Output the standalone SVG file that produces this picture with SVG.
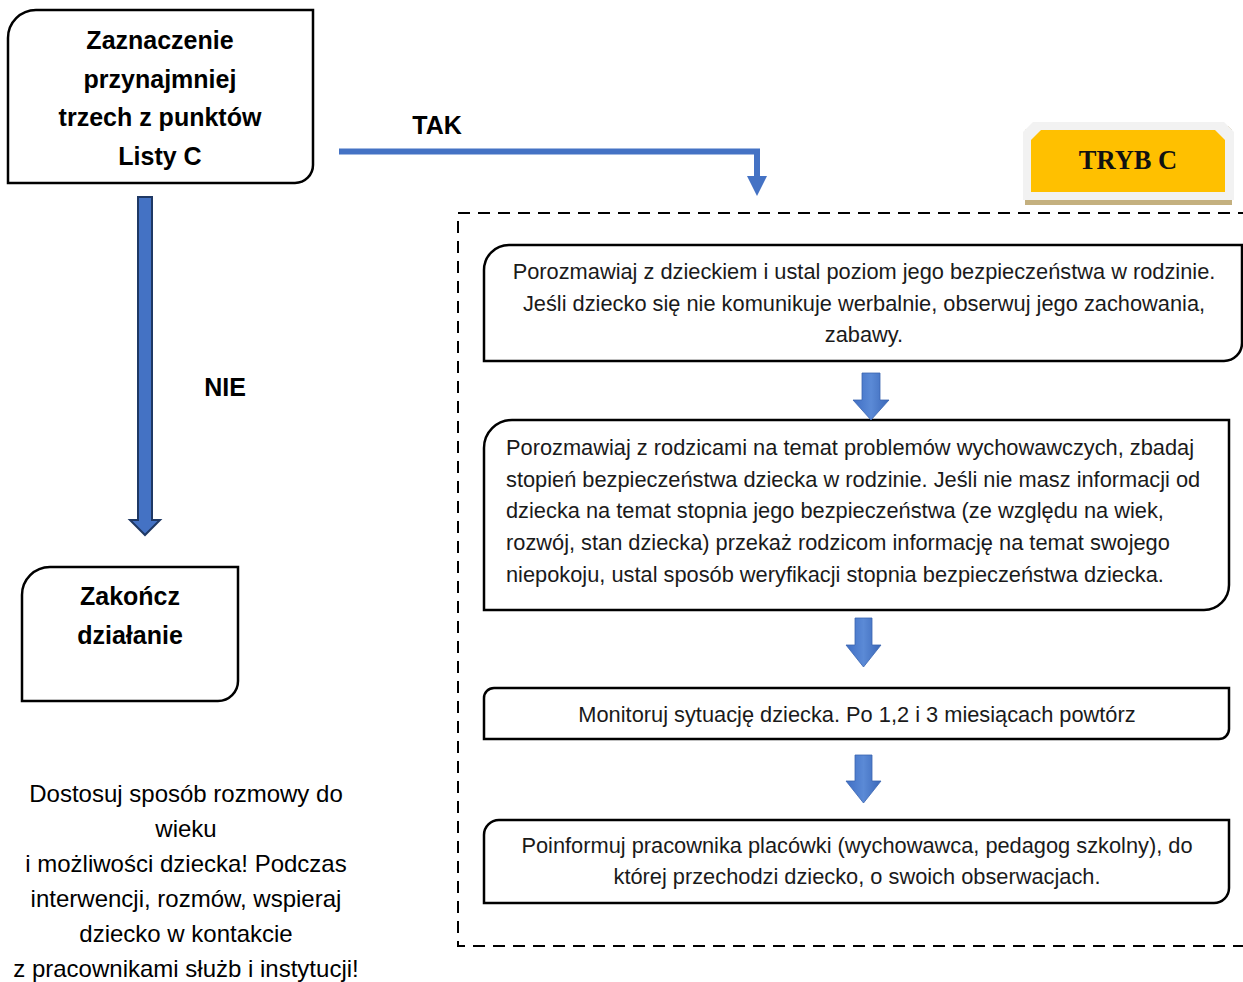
<svg xmlns="http://www.w3.org/2000/svg" width="1243" height="982" viewBox="0 0 1243 982">
<defs>
<style>
.box{fill:#fff;stroke:#000;stroke-width:2.5}
.bt{font-family:"Liberation Sans",Arial,sans-serif;font-weight:bold;font-size:25px;fill:#000;text-anchor:middle}
.t{font-family:"Liberation Sans",Arial,sans-serif;font-size:21.8px;fill:#1a1a1a}
.tc{text-anchor:middle}
.note{font-family:"Liberation Sans",Arial,sans-serif;font-size:24px;fill:#000;text-anchor:middle}
.sarrow{fill:url(#ag);stroke:#3a64b0;stroke-width:0.8}
</style>
<linearGradient id="ag" x1="0" y1="0" x2="1" y2="0">
<stop offset="0" stop-color="#3f6ec4"/>
<stop offset="0.5" stop-color="#5b8ad6"/>
<stop offset="1" stop-color="#3a67b8"/>
</linearGradient>
</defs>
<rect width="1243" height="982" fill="#fff"/>

<g id="container">
<path d="M1250,213 H458 V946 H1250" fill="none" stroke="#000" stroke-width="2" stroke-dasharray="12 8"/>
</g>

<g id="badge">
<path d="M1025,130 L1033,126 H1228 L1232,130 V205 H1025 Z" fill="#c4b07f"/>
<path d="M1023,132 L1033,122 H1224 L1234,132 V200 H1023 Z" fill="#f2f2f2"/>
<path d="M1031,140 L1041,130 H1215 L1225,140 V192 H1031 Z" fill="#ffc000"/>
<text x="1128" y="169" font-family="'Liberation Serif','Times New Roman',serif" font-weight="bold" font-size="26.5" fill="#111" text-anchor="middle">TRYB C</text>
</g>

<g id="node-start">
<path class="box" d="M36,10 H313 V165 A18,18 0 0 1 295,183 H8 V38 A28,28 0 0 1 36,10 Z"/>
<text class="bt" x="160" y="49">Zaznaczenie</text>
<text class="bt" x="160" y="88">przynajmniej</text>
<text class="bt" x="160" y="126">trzech z punktów</text>
<text class="bt" x="160" y="165">Listy C</text>
</g>

<g id="node-end">
<path class="box" d="M50,567 H238 V681 A20,20 0 0 1 218,701 H22 V595 A28,28 0 0 1 50,567 Z"/>
<text class="bt" x="130" y="605">Zakończ</text>
<text class="bt" x="130" y="644">działanie</text>
</g>

<g id="note">
<text class="note" x="186" y="802">Dostosuj sposób rozmowy do</text>
<text class="note" x="186" y="837">wieku</text>
<text class="note" x="186" y="872">i możliwości dziecka! Podczas</text>
<text class="note" x="186" y="907">interwencji, rozmów, wspieraj</text>
<text class="note" x="186" y="942">dziecko w kontakcie</text>
<text class="note" x="186" y="977">z pracownikami służb i instytucji!</text>
</g>

<g id="step-1">
<path class="box" d="M509,245 H1242 V343 A18,18 0 0 1 1224,361 H484 V270 A25,25 0 0 1 509,245 Z"/>
<text class="t tc" x="864" y="279">Porozmawiaj z dzieckiem i ustal poziom jego bezpieczeństwa w rodzinie.</text>
<text class="t tc" x="864" y="311">Jeśli dziecko się nie komunikuje werbalnie, obserwuj jego zachowania,</text>
<text class="t tc" x="864" y="342">zabawy.</text>
</g>

<g id="step-2">
<path class="box" d="M512,420 H1229 V585 A25,25 0 0 1 1204,610 H484 V448 A28,28 0 0 1 512,420 Z"/>
<text class="t" x="506" y="455">Porozmawiaj z rodzicami na temat problemów wychowawczych, zbadaj</text>
<text class="t" x="506" y="487">stopień bezpieczeństwa dziecka w rodzinie. Jeśli nie masz informacji od</text>
<text class="t" x="506" y="518">dziecka na temat stopnia jego bezpieczeństwa (ze względu na wiek,</text>
<text class="t" x="506" y="550">rozwój, stan dziecka) przekaż rodzicom informację na temat swojego</text>
<text class="t" x="506" y="582">niepokoju, ustal sposób weryfikacji stopnia bezpieczeństwa dziecka.</text>
</g>

<g id="step-3">
<path class="box" d="M494,688 H1229 V729 A10,10 0 0 1 1219,739 H484 V698 A10,10 0 0 1 494,688 Z"/>
<text class="t tc" x="857" y="722">Monitoruj sytuację dziecka. Po 1,2 i 3 miesiącach powtórz</text>
</g>

<g id="step-4">
<path class="box" d="M499,820 H1229 V888 A15,15 0 0 1 1214,903 H484 V835 A15,15 0 0 1 499,820 Z"/>
<text class="t tc" x="857" y="853">Poinformuj pracownika placówki (wychowawca, pedagog szkolny), do</text>
<text class="t tc" x="857" y="884">której przechodzi dziecko, o swoich obserwacjach.</text>
</g>

<g id="connectors">
<polyline points="339,151.5 757,151.5 757,178" fill="none" stroke="#4472c4" stroke-width="6"/>
<polygon points="747,176 767,176 757,196" fill="#4472c4"/>
<text class="bt" x="437" y="134">TAK</text>
<polygon points="138,197 152,197 152,520 160,520 145,535 130,520 138,520" fill="#4472c4" stroke="#1f3864" stroke-width="2" stroke-linejoin="miter"/>
<text class="bt" x="225" y="396">NIE</text>
<polygon class="sarrow" points="862,373 880,373 880,400 889,400 871,420 853,400 862,400"/>
<polygon class="sarrow" points="855,618 872,618 872,645 881,645 863.5,667 846,645 855,645"/>
<polygon class="sarrow" points="855,755 872,755 872,781 881,781 863.5,803 846,781 855,781"/>
</g>
</svg>
